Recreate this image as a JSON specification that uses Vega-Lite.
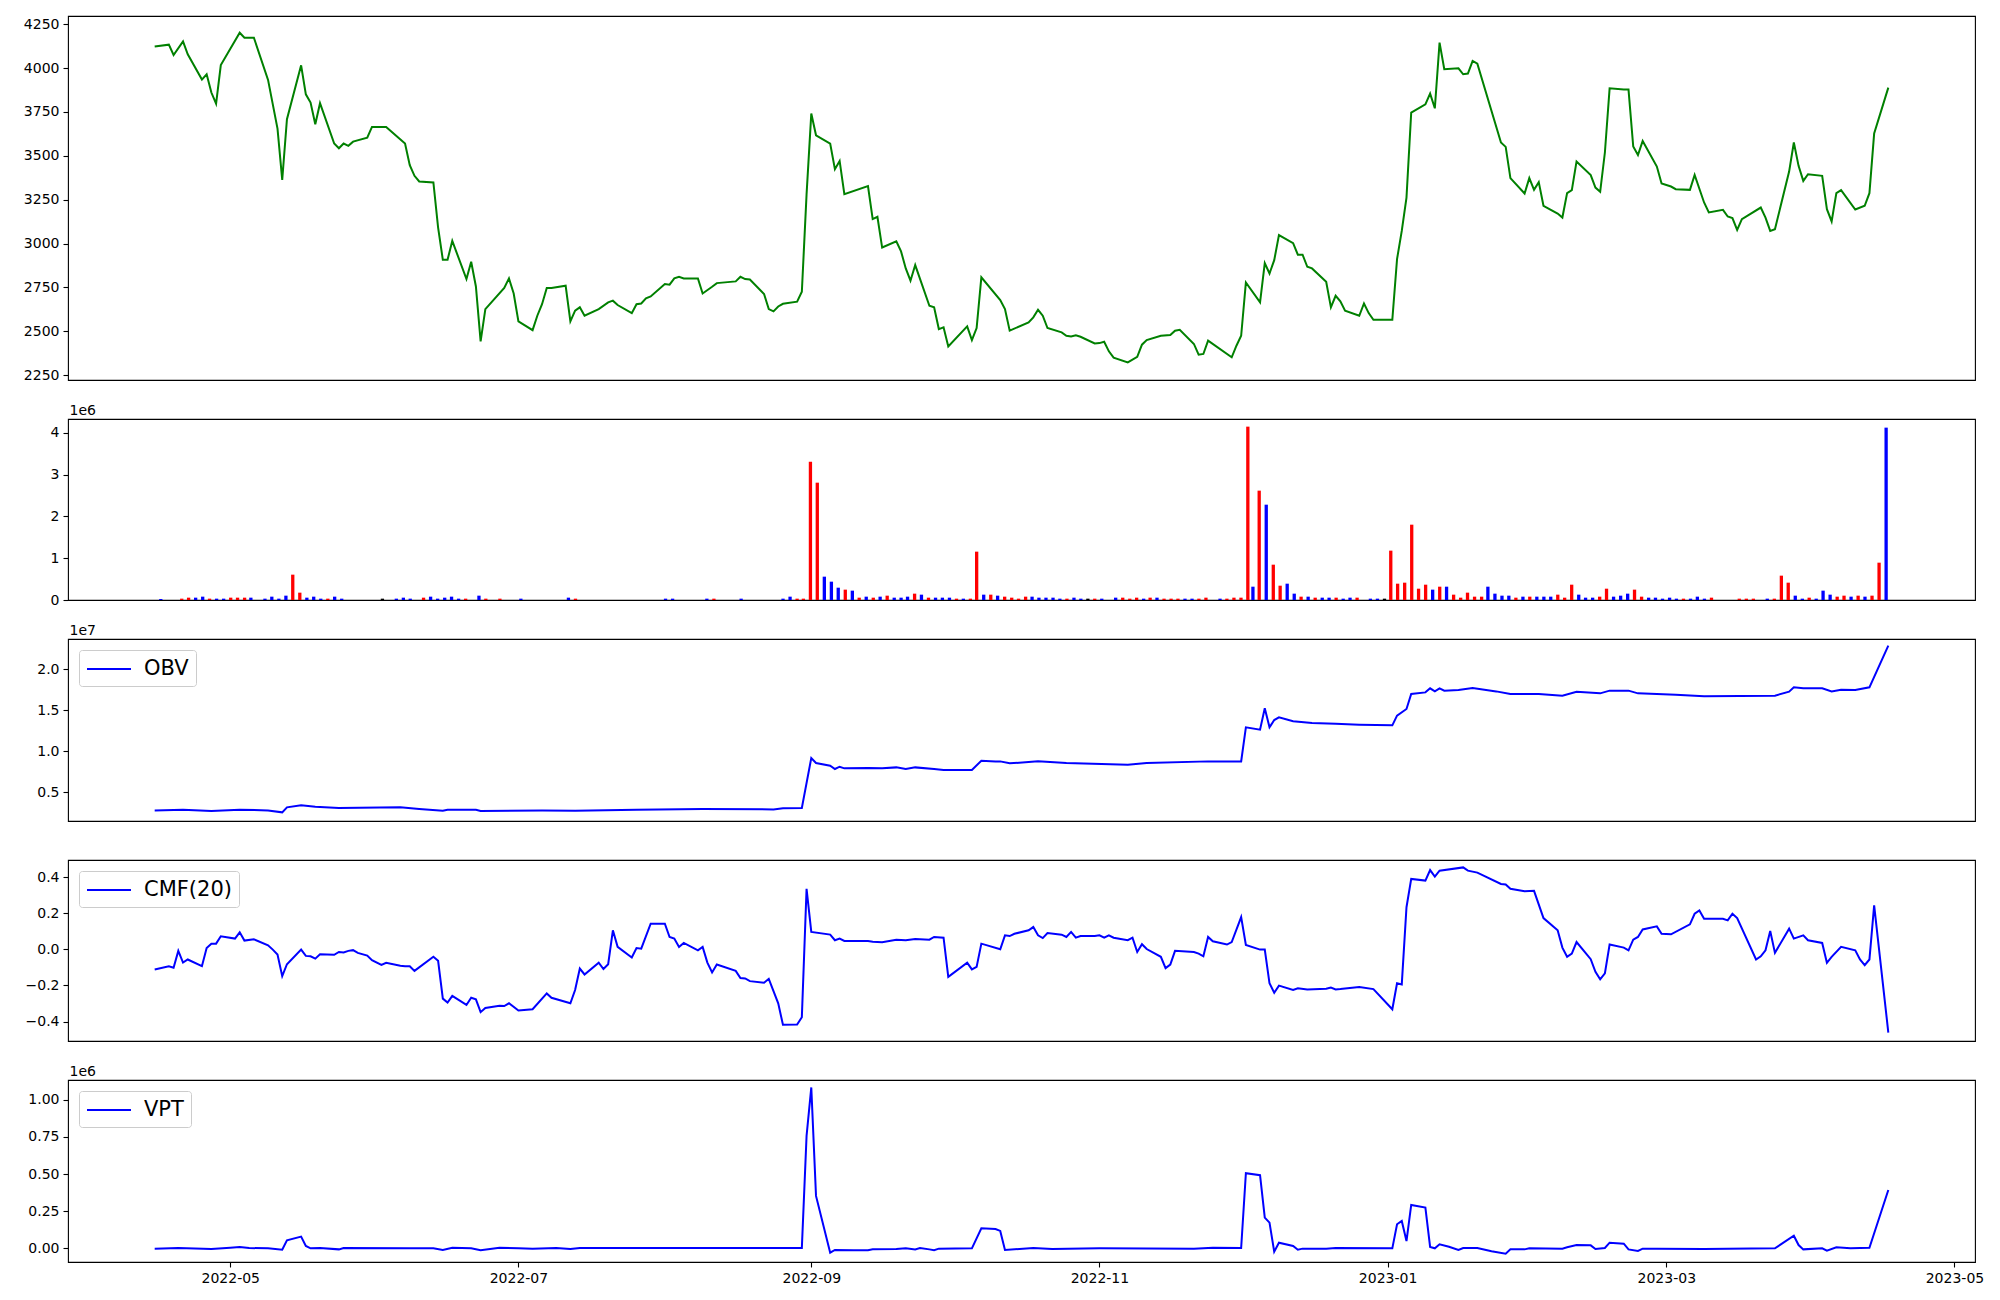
{
"$schema": "https://vega.github.io/schema/vega-lite/v6.json",
"background": "white",
"padding": {"left": 22, "top": 15, "right": 10, "bottom": 5},
"bounds": "flush",
"spacing": 39,
"resolve": {"scale": {"color": "independent"}},
"config": {
  "view": {"stroke": "black", "strokeWidth": 1.1},
  "axis": {"domain": false, "grid": false, "tickColor": "black", "tickSize": 5, "tickWidth": 1.1, "labelColor": "black", "labelFont": "DejaVu Sans", "labelFontSize": 14, "labelPadding": 4, "labelFlush": false, "labelOverlap": false, "labelBound": false, "titleFont": "DejaVu Sans", "titleFontSize": 14, "titleFontWeight": "normal", "titleColor": "black"},
  "legend": {"title": null, "orient": "top-left", "offset": 11, "symbolType": "M-1,0H3", "symbolSize": 484, "symbolStrokeWidth": 2, "labelOffset": 34, "labelFontSize": 21, "labelFont": "DejaVu Sans", "labelColor": "black", "padding": 7, "strokeColor": "#cccccc", "fillColor": "white", "cornerRadius": 3}
},
"datasets": {
"price": [
{"date":"2022-04-15T00:00","v":4123},{"date":"2022-04-18T00:00","v":4134},{"date":"2022-04-19T00:00","v":4075},{"date":"2022-04-21T00:00","v":4153},{"date":"2022-04-22T00:00","v":4079},{"date":"2022-04-25T00:00","v":3935},{"date":"2022-04-26T00:00","v":3965},{"date":"2022-04-27T00:00","v":3861},{"date":"2022-04-28T00:00","v":3798},{"date":"2022-04-29T00:00","v":4018},{"date":"2022-05-03T00:00","v":4202},{"date":"2022-05-04T00:00","v":4174},{"date":"2022-05-06T00:00","v":4174},{"date":"2022-05-09T00:00","v":3933},{"date":"2022-05-11T00:00","v":3655},{"date":"2022-05-12T00:00","v":3363},{"date":"2022-05-13T00:00","v":3709},{"date":"2022-05-16T00:00","v":4016},{"date":"2022-05-17T00:00","v":3851},{"date":"2022-05-18T00:00","v":3804},{"date":"2022-05-19T00:00","v":3680},{"date":"2022-05-20T00:00","v":3800},{"date":"2022-05-23T00:00","v":3570},{"date":"2022-05-24T00:00","v":3543},{"date":"2022-05-25T00:00","v":3570},{"date":"2022-05-26T00:00","v":3557},{"date":"2022-05-27T00:00","v":3581},{"date":"2022-05-30T00:00","v":3604},{"date":"2022-05-31T00:00","v":3665},{"date":"2022-06-03T00:00","v":3665},{"date":"2022-06-07T00:00","v":3570},{"date":"2022-06-08T00:00","v":3447},{"date":"2022-06-09T00:00","v":3386},{"date":"2022-06-10T00:00","v":3354},{"date":"2022-06-13T00:00","v":3348},{"date":"2022-06-14T00:00","v":3091},{"date":"2022-06-15T00:00","v":2907},{"date":"2022-06-16T00:00","v":2907},{"date":"2022-06-17T00:00","v":3015},{"date":"2022-06-20T00:00","v":2797},{"date":"2022-06-21T00:00","v":2896},{"date":"2022-06-22T00:00","v":2755},{"date":"2022-06-23T00:00","v":2442},{"date":"2022-06-24T00:00","v":2626},{"date":"2022-06-28T00:00","v":2746},{"date":"2022-06-29T00:00","v":2801},{"date":"2022-06-30T00:00","v":2715},{"date":"2022-07-01T00:00","v":2556},{"date":"2022-07-04T00:00","v":2506},{"date":"2022-07-05T00:00","v":2588},{"date":"2022-07-06T00:00","v":2654},{"date":"2022-07-07T00:00","v":2746},{"date":"2022-07-08T00:00","v":2746},{"date":"2022-07-11T00:00","v":2759},{"date":"2022-07-12T00:00","v":2556},{"date":"2022-07-13T00:00","v":2617},{"date":"2022-07-14T00:00","v":2636},{"date":"2022-07-15T00:00","v":2588},{"date":"2022-07-18T00:00","v":2626},{"date":"2022-07-20T00:00","v":2664},{"date":"2022-07-21T00:00","v":2674},{"date":"2022-07-22T00:00","v":2649},{"date":"2022-07-25T00:00","v":2603},{"date":"2022-07-26T00:00","v":2654},{"date":"2022-07-27T00:00","v":2658},{"date":"2022-07-28T00:00","v":2687},{"date":"2022-07-29T00:00","v":2698},{"date":"2022-08-01T00:00","v":2769},{"date":"2022-08-02T00:00","v":2765},{"date":"2022-08-03T00:00","v":2801},{"date":"2022-08-04T00:00","v":2810},{"date":"2022-08-05T00:00","v":2801},{"date":"2022-08-08T00:00","v":2801},{"date":"2022-08-09T00:00","v":2715},{"date":"2022-08-11T00:00","v":2753},{"date":"2022-08-12T00:00","v":2774},{"date":"2022-08-16T00:00","v":2784},{"date":"2022-08-17T00:00","v":2810},{"date":"2022-08-18T00:00","v":2797},{"date":"2022-08-19T00:00","v":2795},{"date":"2022-08-22T00:00","v":2712},{"date":"2022-08-23T00:00","v":2626},{"date":"2022-08-24T00:00","v":2613},{"date":"2022-08-25T00:00","v":2641},{"date":"2022-08-26T00:00","v":2656},{"date":"2022-08-29T00:00","v":2668},{"date":"2022-08-30T00:00","v":2725},{"date":"2022-08-31T00:00","v":3280},{"date":"2022-09-01T00:00","v":3741},{"date":"2022-09-02T00:00","v":3617},{"date":"2022-09-05T00:00","v":3570},{"date":"2022-09-06T00:00","v":3424},{"date":"2022-09-07T00:00","v":3471},{"date":"2022-09-08T00:00","v":3281},{"date":"2022-09-13T00:00","v":3327},{"date":"2022-09-14T00:00","v":3139},{"date":"2022-09-15T00:00","v":3152},{"date":"2022-09-16T00:00","v":2977},{"date":"2022-09-19T00:00","v":3012},{"date":"2022-09-20T00:00","v":2955},{"date":"2022-09-21T00:00","v":2858},{"date":"2022-09-22T00:00","v":2788},{"date":"2022-09-23T00:00","v":2877},{"date":"2022-09-26T00:00","v":2645},{"date":"2022-09-27T00:00","v":2636},{"date":"2022-09-28T00:00","v":2512},{"date":"2022-09-29T00:00","v":2522},{"date":"2022-09-30T00:00","v":2413},{"date":"2022-10-04T00:00","v":2527},{"date":"2022-10-05T00:00","v":2449},{"date":"2022-10-06T00:00","v":2518},{"date":"2022-10-07T00:00","v":2807},{"date":"2022-10-11T00:00","v":2677},{"date":"2022-10-12T00:00","v":2626},{"date":"2022-10-13T00:00","v":2503},{"date":"2022-10-17T00:00","v":2550},{"date":"2022-10-18T00:00","v":2579},{"date":"2022-10-19T00:00","v":2622},{"date":"2022-10-20T00:00","v":2588},{"date":"2022-10-21T00:00","v":2518},{"date":"2022-10-24T00:00","v":2493},{"date":"2022-10-25T00:00","v":2474},{"date":"2022-10-26T00:00","v":2470},{"date":"2022-10-27T00:00","v":2476},{"date":"2022-10-28T00:00","v":2468},{"date":"2022-10-31T00:00","v":2430},{"date":"2022-11-01T00:00","v":2432},{"date":"2022-11-02T00:00","v":2440},{"date":"2022-11-03T00:00","v":2385},{"date":"2022-11-04T00:00","v":2349},{"date":"2022-11-07T00:00","v":2322},{"date":"2022-11-09T00:00","v":2354},{"date":"2022-11-10T00:00","v":2423},{"date":"2022-11-11T00:00","v":2449},{"date":"2022-11-14T00:00","v":2474},{"date":"2022-11-16T00:00","v":2478},{"date":"2022-11-17T00:00","v":2503},{"date":"2022-11-18T00:00","v":2508},{"date":"2022-11-21T00:00","v":2427},{"date":"2022-11-22T00:00","v":2366},{"date":"2022-11-23T00:00","v":2370},{"date":"2022-11-24T00:00","v":2446},{"date":"2022-11-29T00:00","v":2351},{"date":"2022-11-30T00:00","v":2417},{"date":"2022-12-01T00:00","v":2474},{"date":"2022-12-02T00:00","v":2778},{"date":"2022-12-05T00:00","v":2664},{"date":"2022-12-06T00:00","v":2888},{"date":"2022-12-07T00:00","v":2829},{"date":"2022-12-08T00:00","v":2905},{"date":"2022-12-09T00:00","v":3048},{"date":"2022-12-12T00:00","v":3002},{"date":"2022-12-13T00:00","v":2936},{"date":"2022-12-14T00:00","v":2936},{"date":"2022-12-15T00:00","v":2867},{"date":"2022-12-16T00:00","v":2858},{"date":"2022-12-19T00:00","v":2782},{"date":"2022-12-20T00:00","v":2636},{"date":"2022-12-21T00:00","v":2702},{"date":"2022-12-22T00:00","v":2670},{"date":"2022-12-23T00:00","v":2617},{"date":"2022-12-26T00:00","v":2588},{"date":"2022-12-27T00:00","v":2658},{"date":"2022-12-28T00:00","v":2603},{"date":"2022-12-29T00:00","v":2565},{"date":"2023-01-02T00:00","v":2565},{"date":"2023-01-03T00:00","v":2911},{"date":"2023-01-04T00:00","v":3072},{"date":"2023-01-05T00:00","v":3262},{"date":"2023-01-06T00:00","v":3747},{"date":"2023-01-09T00:00","v":3794},{"date":"2023-01-10T00:00","v":3855},{"date":"2023-01-11T00:00","v":3771},{"date":"2023-01-12T00:00","v":4146},{"date":"2023-01-13T00:00","v":3994},{"date":"2023-01-16T00:00","v":3999},{"date":"2023-01-17T00:00","v":3965},{"date":"2023-01-18T00:00","v":3969},{"date":"2023-01-19T00:00","v":4041},{"date":"2023-01-20T00:00","v":4026},{"date":"2023-01-25T00:00","v":3576},{"date":"2023-01-26T00:00","v":3551},{"date":"2023-01-27T00:00","v":3373},{"date":"2023-01-30T00:00","v":3285},{"date":"2023-01-31T00:00","v":3373},{"date":"2023-02-01T00:00","v":3306},{"date":"2023-02-02T00:00","v":3350},{"date":"2023-02-03T00:00","v":3215},{"date":"2023-02-06T00:00","v":3171},{"date":"2023-02-07T00:00","v":3148},{"date":"2023-02-08T00:00","v":3287},{"date":"2023-02-09T00:00","v":3304},{"date":"2023-02-10T00:00","v":3468},{"date":"2023-02-13T00:00","v":3390},{"date":"2023-02-14T00:00","v":3319},{"date":"2023-02-15T00:00","v":3295},{"date":"2023-02-16T00:00","v":3519},{"date":"2023-02-17T00:00","v":3885},{"date":"2023-02-20T00:00","v":3878},{"date":"2023-02-21T00:00","v":3878},{"date":"2023-02-22T00:00","v":3553},{"date":"2023-02-23T00:00","v":3505},{"date":"2023-02-24T00:00","v":3585},{"date":"2023-02-27T00:00","v":3439},{"date":"2023-02-28T00:00","v":3342},{"date":"2023-03-02T00:00","v":3325},{"date":"2023-03-03T00:00","v":3310},{"date":"2023-03-06T00:00","v":3306},{"date":"2023-03-07T00:00","v":3391},{"date":"2023-03-09T00:00","v":3234},{"date":"2023-03-10T00:00","v":3177},{"date":"2023-03-13T00:00","v":3192},{"date":"2023-03-14T00:00","v":3154},{"date":"2023-03-15T00:00","v":3145},{"date":"2023-03-16T00:00","v":3078},{"date":"2023-03-17T00:00","v":3139},{"date":"2023-03-21T00:00","v":3205},{"date":"2023-03-22T00:00","v":3148},{"date":"2023-03-23T00:00","v":3072},{"date":"2023-03-24T00:00","v":3082},{"date":"2023-03-27T00:00","v":3410},{"date":"2023-03-28T00:00","v":3576},{"date":"2023-03-29T00:00","v":3443},{"date":"2023-03-30T00:00","v":3357},{"date":"2023-03-31T00:00","v":3395},{"date":"2023-04-03T00:00","v":3386},{"date":"2023-04-04T00:00","v":3196},{"date":"2023-04-05T00:00","v":3126},{"date":"2023-04-06T00:00","v":3287},{"date":"2023-04-07T00:00","v":3304},{"date":"2023-04-10T00:00","v":3194},{"date":"2023-04-12T00:00","v":3215},{"date":"2023-04-13T00:00","v":3287},{"date":"2023-04-14T00:00","v":3627},{"date":"2023-04-17T00:00","v":3889}
],
"volume": [
{"date":"2022-04-15T08:00","v":24000,"dir":"down"},{"date":"2022-04-19T19:00","v":32000,"dir":"up"},{"date":"2022-04-21T06:00","v":56000,"dir":"up"},{"date":"2022-04-22T18:00","v":56000,"dir":"down"},{"date":"2022-04-24T06:00","v":80000,"dir":"down"},{"date":"2022-04-25T17:00","v":32000,"dir":"up"},{"date":"2022-04-27T05:00","v":32000,"dir":"down"},{"date":"2022-04-28T17:00","v":32000,"dir":"down"},{"date":"2022-04-30T05:00","v":56000,"dir":"up"},{"date":"2022-05-01T16:00","v":56000,"dir":"up"},{"date":"2022-05-03T04:00","v":56000,"dir":"up"},{"date":"2022-05-04T12:00","v":56000,"dir":"down"},{"date":"2022-05-07T12:00","v":32000,"dir":"down"},{"date":"2022-05-08T23:00","v":80000,"dir":"down"},{"date":"2022-05-10T11:00","v":32000,"dir":"down"},{"date":"2022-05-11T23:00","v":104000,"dir":"down"},{"date":"2022-05-13T10:00","v":607000,"dir":"up"},{"date":"2022-05-14T22:00","v":176000,"dir":"up"},{"date":"2022-05-16T10:00","v":56000,"dir":"down"},{"date":"2022-05-17T21:00","v":80000,"dir":"down"},{"date":"2022-05-19T09:00","v":32000,"dir":"down"},{"date":"2022-05-20T21:00","v":32000,"dir":"up"},{"date":"2022-05-22T08:00","v":80000,"dir":"down"},{"date":"2022-05-23T20:00","v":32000,"dir":"down"},{"date":"2022-06-01T12:00","v":32000,"dir":"flat"},{"date":"2022-06-04T11:00","v":32000,"dir":"down"},{"date":"2022-06-05T23:00","v":56000,"dir":"down"},{"date":"2022-06-07T10:00","v":32000,"dir":"down"},{"date":"2022-06-10T06:00","v":56000,"dir":"up"},{"date":"2022-06-11T18:00","v":80000,"dir":"down"},{"date":"2022-06-13T06:00","v":32000,"dir":"down"},{"date":"2022-06-14T18:00","v":56000,"dir":"down"},{"date":"2022-06-16T05:00","v":80000,"dir":"down"},{"date":"2022-06-17T17:00","v":32000,"dir":"down"},{"date":"2022-06-19T05:00","v":32000,"dir":"up"},{"date":"2022-06-22T01:00","v":104000,"dir":"down"},{"date":"2022-06-23T12:00","v":32000,"dir":"up"},{"date":"2022-06-26T12:00","v":32000,"dir":"up"},{"date":"2022-06-30T23:00","v":32000,"dir":"down"},{"date":"2022-07-11T02:00","v":56000,"dir":"down"},{"date":"2022-07-12T14:00","v":32000,"dir":"up"},{"date":"2022-07-31T18:00","v":32000,"dir":"down"},{"date":"2022-08-02T06:00","v":32000,"dir":"down"},{"date":"2022-08-09T13:00","v":32000,"dir":"down"},{"date":"2022-08-11T01:00","v":32000,"dir":"up"},{"date":"2022-08-16T20:00","v":32000,"dir":"down"},{"date":"2022-08-25T18:00","v":32000,"dir":"down"},{"date":"2022-08-27T06:00","v":80000,"dir":"down"},{"date":"2022-08-28T18:00","v":32000,"dir":"up"},{"date":"2022-08-30T02:00","v":32000,"dir":"up"},{"date":"2022-08-31T14:00","v":3313000,"dir":"up"},{"date":"2022-09-02T01:00","v":2810000,"dir":"up"},{"date":"2022-09-03T13:00","v":559000,"dir":"down"},{"date":"2022-09-05T01:00","v":439000,"dir":"down"},{"date":"2022-09-06T12:00","v":295000,"dir":"down"},{"date":"2022-09-08T00:00","v":248000,"dir":"up"},{"date":"2022-09-09T12:00","v":224000,"dir":"down"},{"date":"2022-09-10T23:00","v":56000,"dir":"up"},{"date":"2022-09-12T11:00","v":80000,"dir":"down"},{"date":"2022-09-13T23:00","v":56000,"dir":"up"},{"date":"2022-09-15T10:00","v":80000,"dir":"down"},{"date":"2022-09-16T22:00","v":104000,"dir":"up"},{"date":"2022-09-18T10:00","v":56000,"dir":"down"},{"date":"2022-09-19T21:00","v":56000,"dir":"down"},{"date":"2022-09-21T06:00","v":80000,"dir":"down"},{"date":"2022-09-22T18:00","v":152000,"dir":"up"},{"date":"2022-09-24T05:00","v":128000,"dir":"down"},{"date":"2022-09-25T17:00","v":56000,"dir":"up"},{"date":"2022-09-27T05:00","v":56000,"dir":"down"},{"date":"2022-09-28T16:00","v":56000,"dir":"down"},{"date":"2022-09-30T04:00","v":56000,"dir":"down"},{"date":"2022-10-01T16:00","v":32000,"dir":"up"},{"date":"2022-10-03T03:00","v":32000,"dir":"down"},{"date":"2022-10-04T15:00","v":32000,"dir":"up"},{"date":"2022-10-05T23:00","v":1158000,"dir":"up"},{"date":"2022-10-07T11:00","v":128000,"dir":"down"},{"date":"2022-10-08T23:00","v":128000,"dir":"up"},{"date":"2022-10-10T10:00","v":104000,"dir":"down"},
{"date":"2022-10-11T22:00","v":80000,"dir":"up"},{"date":"2022-10-13T10:00","v":56000,"dir":"up"},{"date":"2022-10-14T21:00","v":32000,"dir":"up"},{"date":"2022-10-16T09:00","v":80000,"dir":"up"},{"date":"2022-10-17T18:00","v":80000,"dir":"down"},{"date":"2022-10-19T05:00","v":56000,"dir":"down"},{"date":"2022-10-20T17:00","v":56000,"dir":"down"},{"date":"2022-10-22T05:00","v":56000,"dir":"down"},{"date":"2022-10-23T16:00","v":32000,"dir":"down"},{"date":"2022-10-25T04:00","v":32000,"dir":"up"},{"date":"2022-10-26T16:00","v":56000,"dir":"down"},{"date":"2022-10-28T03:00","v":32000,"dir":"down"},{"date":"2022-10-29T15:00","v":32000,"dir":"flat"},{"date":"2022-10-31T02:00","v":32000,"dir":"up"},{"date":"2022-11-01T14:00","v":32000,"dir":"down"},{"date":"2022-11-04T13:00","v":56000,"dir":"down"},{"date":"2022-11-06T01:00","v":56000,"dir":"up"},{"date":"2022-11-07T13:00","v":32000,"dir":"up"},{"date":"2022-11-09T00:00","v":56000,"dir":"up"},{"date":"2022-11-10T12:00","v":32000,"dir":"down"},{"date":"2022-11-11T21:00","v":56000,"dir":"up"},{"date":"2022-11-13T08:00","v":56000,"dir":"down"},{"date":"2022-11-14T20:00","v":32000,"dir":"up"},{"date":"2022-11-16T08:00","v":32000,"dir":"up"},{"date":"2022-11-17T19:00","v":32000,"dir":"up"},{"date":"2022-11-19T07:00","v":32000,"dir":"down"},{"date":"2022-11-20T19:00","v":32000,"dir":"down"},{"date":"2022-11-22T06:00","v":32000,"dir":"up"},{"date":"2022-11-23T18:00","v":56000,"dir":"up"},{"date":"2022-11-26T18:00","v":32000,"dir":"down"},{"date":"2022-11-28T05:00","v":32000,"dir":"up"},{"date":"2022-11-29T17:00","v":56000,"dir":"up"},{"date":"2022-12-01T05:00","v":56000,"dir":"up"},{"date":"2022-12-02T16:00","v":4152000,"dir":"up"},{"date":"2022-12-03T18:00","v":319000,"dir":"down"},{"date":"2022-12-05T02:00","v":2619000,"dir":"up"},{"date":"2022-12-06T14:00","v":2283000,"dir":"down"},{"date":"2022-12-08T02:00","v":846000,"dir":"up"},{"date":"2022-12-09T13:00","v":343000,"dir":"up"},{"date":"2022-12-11T01:00","v":391000,"dir":"down"},{"date":"2022-12-12T13:00","v":152000,"dir":"down"},{"date":"2022-12-14T00:00","v":80000,"dir":"up"},{"date":"2022-12-15T12:00","v":80000,"dir":"down"},{"date":"2022-12-17T00:00","v":56000,"dir":"up"},{"date":"2022-12-18T12:00","v":56000,"dir":"down"},{"date":"2022-12-19T23:00","v":56000,"dir":"down"},{"date":"2022-12-21T11:00","v":56000,"dir":"up"},{"date":"2022-12-22T23:00","v":32000,"dir":"down"},{"date":"2022-12-24T10:00","v":56000,"dir":"down"},{"date":"2022-12-25T22:00","v":56000,"dir":"up"},{"date":"2022-12-28T18:00","v":32000,"dir":"down"},{"date":"2022-12-30T06:00","v":32000,"dir":"down"},{"date":"2022-12-31T18:00","v":32000,"dir":"flat"},{"date":"2023-01-02T02:00","v":1182000,"dir":"up"},{"date":"2023-01-03T13:00","v":391000,"dir":"up"},{"date":"2023-01-05T01:00","v":415000,"dir":"up"},{"date":"2023-01-06T13:00","v":1804000,"dir":"up"},{"date":"2023-01-08T00:00","v":271000,"dir":"up"},{"date":"2023-01-09T12:00","v":367000,"dir":"up"},{"date":"2023-01-11T00:00","v":248000,"dir":"down"},{"date":"2023-01-12T12:00","v":319000,"dir":"up"},{"date":"2023-01-13T23:00","v":319000,"dir":"down"},{"date":"2023-01-15T11:00","v":128000,"dir":"up"},{"date":"2023-01-16T23:00","v":56000,"dir":"up"},{"date":"2023-01-18T10:00","v":176000,"dir":"up"},{"date":"2023-01-19T22:00","v":80000,"dir":"up"},{"date":"2023-01-21T10:00","v":80000,"dir":"up"},{"date":"2023-01-22T18:00","v":319000,"dir":"down"},{"date":"2023-01-24T06:00","v":152000,"dir":"down"},{"date":"2023-01-25T18:00","v":104000,"dir":"down"},{"date":"2023-01-27T05:00","v":104000,"dir":"down"},{"date":"2023-01-28T17:00","v":56000,"dir":"up"},{"date":"2023-01-30T05:00","v":80000,"dir":"down"},{"date":"2023-01-31T16:00","v":80000,"dir":"up"},{"date":"2023-02-02T04:00","v":80000,"dir":"down"},{"date":"2023-02-03T16:00","v":80000,"dir":"down"},{"date":"2023-02-05T03:00","v":80000,"dir":"down"},{"date":"2023-02-06T15:00","v":128000,"dir":"up"},{"date":"2023-02-08T02:00","v":56000,"dir":"up"},{"date":"2023-02-09T14:00","v":367000,"dir":"up"},{"date":"2023-02-11T02:00","v":128000,"dir":"down"},{"date":"2023-02-12T13:00","v":56000,"dir":"down"},{"date":"2023-02-14T01:00","v":56000,"dir":"down"},{"date":"2023-02-15T13:00","v":80000,"dir":"up"},{"date":"2023-02-17T00:00","v":271000,"dir":"up"},{"date":"2023-02-18T12:00","v":80000,"dir":"down"},{"date":"2023-02-20T00:00","v":104000,"dir":"down"},{"date":"2023-02-21T12:00","v":152000,"dir":"down"},{"date":"2023-02-22T23:00","v":248000,"dir":"up"},{"date":"2023-02-24T11:00","v":80000,"dir":"up"},{"date":"2023-02-25T23:00","v":56000,"dir":"down"},{"date":"2023-02-27T10:00","v":56000,"dir":"down"},{"date":"2023-02-28T22:00","v":32000,"dir":"down"},{"date":"2023-03-02T10:00","v":56000,"dir":"down"},{"date":"2023-03-03T21:00","v":32000,"dir":"down"},{"date":"2023-03-05T09:00","v":32000,"dir":"up"},{"date":"2023-03-06T21:00","v":32000,"dir":"down"},{"date":"2023-03-08T08:00","v":80000,"dir":"down"},{"date":"2023-03-09T20:00","v":32000,"dir":"down"},{"date":"2023-03-11T08:00","v":56000,"dir":"up"},{"date":"2023-03-17T06:00","v":32000,"dir":"up"},{"date":"2023-03-18T18:00","v":32000,"dir":"up"},{"date":"2023-03-20T06:00","v":32000,"dir":"up"},{"date":"2023-03-23T05:00","v":32000,"dir":"down"},{"date":"2023-03-24T17:00","v":32000,"dir":"up"},{"date":"2023-03-26T05:00","v":583000,"dir":"up"},{"date":"2023-03-27T16:00","v":415000,"dir":"up"},{"date":"2023-03-29T04:00","v":104000,"dir":"down"},{"date":"2023-03-30T16:00","v":32000,"dir":"down"},{"date":"2023-04-01T03:00","v":56000,"dir":"up"},{"date":"2023-04-02T15:00","v":32000,"dir":"down"},{"date":"2023-04-04T02:00","v":224000,"dir":"down"},{"date":"2023-04-05T14:00","v":128000,"dir":"down"},{"date":"2023-04-07T02:00","v":80000,"dir":"up"},{"date":"2023-04-08T13:00","v":104000,"dir":"up"},{"date":"2023-04-10T01:00","v":80000,"dir":"down"},{"date":"2023-04-11T13:00","v":104000,"dir":"up"},{"date":"2023-04-13T00:00","v":80000,"dir":"down"},{"date":"2023-04-14T12:00","v":104000,"dir":"up"},{"date":"2023-04-16T00:00","v":894000,"dir":"up"},{"date":"2023-04-17T12:00","v":4128000,"dir":"down"}
],
"obv": [
{"date":"2022-04-15T00:00","v":2810000},{"date":"2022-04-21T00:00","v":2890000},{"date":"2022-04-27T00:00","v":2730000},{"date":"2022-05-03T00:00","v":2890000},{"date":"2022-05-09T00:00","v":2810000},{"date":"2022-05-12T00:00","v":2570000},{"date":"2022-05-13T00:00","v":3180000},{"date":"2022-05-16T00:00","v":3420000},{"date":"2022-05-19T00:00","v":3260000},{"date":"2022-05-24T00:00","v":3100000},{"date":"2022-06-06T00:00","v":3180000},{"date":"2022-06-10T00:00","v":2980000},{"date":"2022-06-15T00:00","v":2770000},{"date":"2022-06-16T00:00","v":2890000},{"date":"2022-06-22T00:00","v":2890000},{"date":"2022-06-23T00:00","v":2730000},{"date":"2022-07-06T00:00","v":2810000},{"date":"2022-07-13T00:00","v":2770000},{"date":"2022-07-26T00:00","v":2890000},{"date":"2022-08-09T00:00","v":2980000},{"date":"2022-08-24T00:00","v":2930000},{"date":"2022-08-26T00:00","v":3060000},{"date":"2022-08-30T00:00","v":3100000},{"date":"2022-09-01T00:00","v":9180000},{"date":"2022-09-02T00:00","v":8570000},{"date":"2022-09-05T00:00","v":8240000},{"date":"2022-09-06T00:00","v":7840000},{"date":"2022-09-07T00:00","v":8120000},{"date":"2022-09-08T00:00","v":7920000},{"date":"2022-09-13T00:00","v":7960000},{"date":"2022-09-16T00:00","v":7920000},{"date":"2022-09-19T00:00","v":8040000},{"date":"2022-09-21T00:00","v":7840000},{"date":"2022-09-23T00:00","v":8040000},{"date":"2022-09-27T00:00","v":7840000},{"date":"2022-09-29T00:00","v":7720000},{"date":"2022-10-05T00:00","v":7720000},{"date":"2022-10-07T00:00","v":8850000},{"date":"2022-10-10T00:00","v":8770000},{"date":"2022-10-11T00:00","v":8770000},{"date":"2022-10-13T00:00","v":8530000},{"date":"2022-10-19T00:00","v":8770000},{"date":"2022-10-25T00:00","v":8570000},{"date":"2022-11-07T00:00","v":8370000},{"date":"2022-11-11T00:00","v":8570000},{"date":"2022-11-24T00:00","v":8770000},{"date":"2022-12-01T00:00","v":8770000},{"date":"2022-12-02T00:00","v":12910000},{"date":"2022-12-05T00:00","v":12620000},{"date":"2022-12-06T00:00","v":15220000},{"date":"2022-12-07T00:00","v":12910000},{"date":"2022-12-08T00:00","v":13800000},{"date":"2022-12-09T00:00","v":14120000},{"date":"2022-12-12T00:00","v":13640000},{"date":"2022-12-16T00:00","v":13430000},{"date":"2022-12-21T00:00","v":13350000},{"date":"2022-12-26T00:00","v":13230000},{"date":"2023-01-02T00:00","v":13150000},{"date":"2023-01-03T00:00","v":14330000},{"date":"2023-01-05T00:00","v":15140000},{"date":"2023-01-06T00:00","v":16960000},{"date":"2023-01-09T00:00","v":17160000},{"date":"2023-01-10T00:00","v":17650000},{"date":"2023-01-11T00:00","v":17280000},{"date":"2023-01-12T00:00","v":17650000},{"date":"2023-01-13T00:00","v":17370000},{"date":"2023-01-16T00:00","v":17450000},{"date":"2023-01-19T00:00","v":17690000},{"date":"2023-01-24T00:00","v":17280000},{"date":"2023-01-27T00:00","v":16960000},{"date":"2023-02-02T00:00","v":16960000},{"date":"2023-02-07T00:00","v":16760000},{"date":"2023-02-10T00:00","v":17240000},{"date":"2023-02-15T00:00","v":17040000},{"date":"2023-02-17T00:00","v":17370000},{"date":"2023-02-21T00:00","v":17370000},{"date":"2023-02-23T00:00","v":17040000},{"date":"2023-03-03T00:00","v":16880000},{"date":"2023-03-09T00:00","v":16680000},{"date":"2023-03-24T00:00","v":16760000},{"date":"2023-03-27T00:00","v":17240000},{"date":"2023-03-28T00:00","v":17770000},{"date":"2023-03-30T00:00","v":17650000},{"date":"2023-04-03T00:00","v":17650000},{"date":"2023-04-05T00:00","v":17280000},{"date":"2023-04-07T00:00","v":17490000},{"date":"2023-04-10T00:00","v":17450000},{"date":"2023-04-13T00:00","v":17770000},{"date":"2023-04-17T00:00","v":22840000}
],
"cmf": [
{"date":"2022-04-15T00:00","v":-0.111},{"date":"2022-04-18T00:00","v":-0.093},{"date":"2022-04-19T00:00","v":-0.102},{"date":"2022-04-20T00:00","v":-0.008},{"date":"2022-04-21T00:00","v":-0.073},{"date":"2022-04-22T00:00","v":-0.056},{"date":"2022-04-25T00:00","v":-0.093},{"date":"2022-04-26T00:00","v":0.008},{"date":"2022-04-27T00:00","v":0.032},{"date":"2022-04-28T00:00","v":0.032},{"date":"2022-04-29T00:00","v":0.073},{"date":"2022-05-02T00:00","v":0.06},{"date":"2022-05-03T00:00","v":0.095},{"date":"2022-05-04T00:00","v":0.049},{"date":"2022-05-06T00:00","v":0.056},{"date":"2022-05-09T00:00","v":0.023},{"date":"2022-05-10T00:00","v":-0.001},{"date":"2022-05-11T00:00","v":-0.028},{"date":"2022-05-12T00:00","v":-0.148},{"date":"2022-05-13T00:00","v":-0.082},{"date":"2022-05-16T00:00","v":-0.001},{"date":"2022-05-17T00:00","v":-0.036},{"date":"2022-05-18T00:00","v":-0.038},{"date":"2022-05-19T00:00","v":-0.051},{"date":"2022-05-20T00:00","v":-0.027},{"date":"2022-05-23T00:00","v":-0.03},{"date":"2022-05-24T00:00","v":-0.014},{"date":"2022-05-25T00:00","v":-0.017},{"date":"2022-05-26T00:00","v":-0.008},{"date":"2022-05-27T00:00","v":-0.004},{"date":"2022-05-28T00:00","v":-0.019},{"date":"2022-05-30T00:00","v":-0.034},{"date":"2022-05-31T00:00","v":-0.06},{"date":"2022-06-02T00:00","v":-0.086},{"date":"2022-06-03T00:00","v":-0.074},{"date":"2022-06-06T00:00","v":-0.091},{"date":"2022-06-07T00:00","v":-0.093},{"date":"2022-06-08T00:00","v":-0.093},{"date":"2022-06-09T00:00","v":-0.119},{"date":"2022-06-13T00:00","v":-0.041},{"date":"2022-06-14T00:00","v":-0.063},{"date":"2022-06-15T00:00","v":-0.273},{"date":"2022-06-16T00:00","v":-0.295},{"date":"2022-06-17T00:00","v":-0.258},{"date":"2022-06-20T00:00","v":-0.308},{"date":"2022-06-21T00:00","v":-0.268},{"date":"2022-06-22T00:00","v":-0.277},{"date":"2022-06-23T00:00","v":-0.348},{"date":"2022-06-24T00:00","v":-0.325},{"date":"2022-06-27T00:00","v":-0.312},{"date":"2022-06-28T00:00","v":-0.314},{"date":"2022-06-29T00:00","v":-0.299},{"date":"2022-07-01T00:00","v":-0.339},{"date":"2022-07-04T00:00","v":-0.332},{"date":"2022-07-07T00:00","v":-0.244},{"date":"2022-07-08T00:00","v":-0.268},{"date":"2022-07-12T00:00","v":-0.299},{"date":"2022-07-13T00:00","v":-0.225},{"date":"2022-07-14T00:00","v":-0.106},{"date":"2022-07-15T00:00","v":-0.139},{"date":"2022-07-18T00:00","v":-0.074},{"date":"2022-07-19T00:00","v":-0.109},{"date":"2022-07-20T00:00","v":-0.082},{"date":"2022-07-21T00:00","v":0.106},{"date":"2022-07-22T00:00","v":0.014},{"date":"2022-07-25T00:00","v":-0.045},{"date":"2022-07-26T00:00","v":0.008},{"date":"2022-07-27T00:00","v":0.004},{"date":"2022-07-29T00:00","v":0.143},{"date":"2022-08-01T00:00","v":0.143},{"date":"2022-08-02T00:00","v":0.069},{"date":"2022-08-03T00:00","v":0.06},{"date":"2022-08-04T00:00","v":0.014},{"date":"2022-08-05T00:00","v":0.036},{"date":"2022-08-08T00:00","v":-0.005},{"date":"2022-08-09T00:00","v":0.014},{"date":"2022-08-10T00:00","v":-0.073},{"date":"2022-08-11T00:00","v":-0.128},{"date":"2022-08-12T00:00","v":-0.084},{"date":"2022-08-16T00:00","v":-0.119},{"date":"2022-08-17T00:00","v":-0.159},{"date":"2022-08-18T00:00","v":-0.161},{"date":"2022-08-19T00:00","v":-0.176},{"date":"2022-08-22T00:00","v":-0.185},{"date":"2022-08-23T00:00","v":-0.163},{"date":"2022-08-25T00:00","v":-0.299},{"date":"2022-08-26T00:00","v":-0.418},{"date":"2022-08-29T00:00","v":-0.417},{"date":"2022-08-30T00:00","v":-0.376},{"date":"2022-08-31T00:00","v":0.336},{"date":"2022-09-01T00:00","v":0.097},{"date":"2022-09-05T00:00","v":0.082},{"date":"2022-09-06T00:00","v":0.051},{"date":"2022-09-07T00:00","v":0.06},{"date":"2022-09-08T00:00","v":0.047},{"date":"2022-09-13T00:00","v":0.047},{"date":"2022-09-14T00:00","v":0.043},{"date":"2022-09-16T00:00","v":0.04},{"date":"2022-09-19T00:00","v":0.054},{"date":"2022-09-21T00:00","v":0.051},{"date":"2022-09-23T00:00","v":0.058},{"date":"2022-09-26T00:00","v":0.054},{"date":"2022-09-27T00:00","v":0.069},{"date":"2022-09-29T00:00","v":0.065},{"date":"2022-09-30T00:00","v":-0.152},{"date":"2022-10-04T00:00","v":-0.073},{"date":"2022-10-05T00:00","v":-0.111},{"date":"2022-10-06T00:00","v":-0.097},{"date":"2022-10-07T00:00","v":0.032},{"date":"2022-10-11T00:00","v":0.001},{"date":"2022-10-12T00:00","v":0.078},{"date":"2022-10-13T00:00","v":0.074},{"date":"2022-10-14T00:00","v":0.087},{"date":"2022-10-17T00:00","v":0.106},{"date":"2022-10-18T00:00","v":0.124},{"date":"2022-10-19T00:00","v":0.078},{"date":"2022-10-20T00:00","v":0.063},{"date":"2022-10-21T00:00","v":0.091},{"date":"2022-10-24T00:00","v":0.082},{"date":"2022-10-25T00:00","v":0.069},{"date":"2022-10-26T00:00","v":0.097},{"date":"2022-10-27T00:00","v":0.065},{"date":"2022-10-28T00:00","v":0.074},{"date":"2022-10-31T00:00","v":0.074},{"date":"2022-11-01T00:00","v":0.078},{"date":"2022-11-02T00:00","v":0.065},{"date":"2022-11-03T00:00","v":0.078},{"date":"2022-11-04T00:00","v":0.065},{"date":"2022-11-07T00:00","v":0.051},{"date":"2022-11-08T00:00","v":0.065},{"date":"2022-11-09T00:00","v":-0.014},{"date":"2022-11-10T00:00","v":0.029},{"date":"2022-11-11T00:00","v":0.002},{"date":"2022-11-14T00:00","v":-0.041},{"date":"2022-11-15T00:00","v":-0.104},{"date":"2022-11-16T00:00","v":-0.084},{"date":"2022-11-17T00:00","v":-0.008},{"date":"2022-11-21T00:00","v":-0.014},{"date":"2022-11-22T00:00","v":-0.023},{"date":"2022-11-23T00:00","v":-0.038},{"date":"2022-11-24T00:00","v":0.069},{"date":"2022-11-25T00:00","v":0.045},{"date":"2022-11-28T00:00","v":0.027},{"date":"2022-11-29T00:00","v":0.041},{"date":"2022-12-01T00:00","v":0.179},{"date":"2022-12-02T00:00","v":0.025},{"date":"2022-12-05T00:00","v":-0.001},{"date":"2022-12-06T00:00","v":-0.001},{"date":"2022-12-07T00:00","v":-0.188},{"date":"2022-12-08T00:00","v":-0.24},{"date":"2022-12-09T00:00","v":-0.201},{"date":"2022-12-12T00:00","v":-0.225},{"date":"2022-12-13T00:00","v":-0.216},{"date":"2022-12-15T00:00","v":-0.222},{"date":"2022-12-19T00:00","v":-0.218},{"date":"2022-12-20T00:00","v":-0.212},{"date":"2022-12-21T00:00","v":-0.222},{"date":"2022-12-22T00:00","v":-0.22},{"date":"2022-12-26T00:00","v":-0.209},{"date":"2022-12-29T00:00","v":-0.22},{"date":"2023-01-02T00:00","v":-0.332},{"date":"2023-01-03T00:00","v":-0.188},{"date":"2023-01-04T00:00","v":-0.194},{"date":"2023-01-05T00:00","v":0.234},{"date":"2023-01-06T00:00","v":0.391},{"date":"2023-01-09T00:00","v":0.382},{"date":"2023-01-10T00:00","v":0.44},{"date":"2023-01-11T00:00","v":0.404},{"date":"2023-01-12T00:00","v":0.437},{"date":"2023-01-17T00:00","v":0.455},{"date":"2023-01-18T00:00","v":0.437},{"date":"2023-01-20T00:00","v":0.426},{"date":"2023-01-25T00:00","v":0.363},{"date":"2023-01-26T00:00","v":0.36},{"date":"2023-01-27T00:00","v":0.336},{"date":"2023-01-30T00:00","v":0.323},{"date":"2023-02-01T00:00","v":0.325},{"date":"2023-02-03T00:00","v":0.174},{"date":"2023-02-06T00:00","v":0.106},{"date":"2023-02-07T00:00","v":0.01},{"date":"2023-02-08T00:00","v":-0.041},{"date":"2023-02-09T00:00","v":-0.023},{"date":"2023-02-10T00:00","v":0.041},{"date":"2023-02-13T00:00","v":-0.054},{"date":"2023-02-14T00:00","v":-0.124},{"date":"2023-02-15T00:00","v":-0.166},{"date":"2023-02-16T00:00","v":-0.133},{"date":"2023-02-17T00:00","v":0.027},{"date":"2023-02-20T00:00","v":0.01},{"date":"2023-02-21T00:00","v":-0.005},{"date":"2023-02-22T00:00","v":0.054},{"date":"2023-02-23T00:00","v":0.069},{"date":"2023-02-24T00:00","v":0.111},{"date":"2023-02-27T00:00","v":0.128},{"date":"2023-02-28T00:00","v":0.087},{"date":"2023-03-02T00:00","v":0.084},{"date":"2023-03-06T00:00","v":0.139},{"date":"2023-03-07T00:00","v":0.198},{"date":"2023-03-08T00:00","v":0.216},{"date":"2023-03-09T00:00","v":0.17},{"date":"2023-03-13T00:00","v":0.17},{"date":"2023-03-14T00:00","v":0.161},{"date":"2023-03-15T00:00","v":0.198},{"date":"2023-03-16T00:00","v":0.174},{"date":"2023-03-20T00:00","v":-0.056},{"date":"2023-03-21T00:00","v":-0.038},{"date":"2023-03-22T00:00","v":-0.005},{"date":"2023-03-23T00:00","v":0.102},{"date":"2023-03-24T00:00","v":-0.019},{"date":"2023-03-27T00:00","v":0.115},{"date":"2023-03-28T00:00","v":0.06},{"date":"2023-03-30T00:00","v":0.078},{"date":"2023-03-31T00:00","v":0.051},{"date":"2023-04-03T00:00","v":0.036},{"date":"2023-04-04T00:00","v":-0.074},{"date":"2023-04-05T00:00","v":-0.041},{"date":"2023-04-07T00:00","v":0.014},{"date":"2023-04-10T00:00","v":-0.005},{"date":"2023-04-11T00:00","v":-0.056},{"date":"2023-04-12T00:00","v":-0.087},{"date":"2023-04-13T00:00","v":-0.056},{"date":"2023-04-14T00:00","v":0.244},{"date":"2023-04-17T00:00","v":-0.461}
],
"vpt": [
{"date":"2022-04-15T00:00","v":-2000},{"date":"2022-04-20T00:00","v":2000},{"date":"2022-04-27T00:00","v":-4000},{"date":"2022-05-01T00:00","v":4000},{"date":"2022-05-03T00:00","v":9000},{"date":"2022-05-05T00:00","v":2000},{"date":"2022-05-09T00:00","v":0},{"date":"2022-05-12T00:00","v":-9000},{"date":"2022-05-13T00:00","v":54000},{"date":"2022-05-16T00:00","v":79000},{"date":"2022-05-17T00:00","v":16000},{"date":"2022-05-18T00:00","v":0},{"date":"2022-05-20T00:00","v":2000},{"date":"2022-05-24T00:00","v":-7000},{"date":"2022-05-25T00:00","v":2000},{"date":"2022-06-08T00:00","v":0},{"date":"2022-06-13T00:00","v":0},{"date":"2022-06-15T00:00","v":-11000},{"date":"2022-06-17T00:00","v":4000},{"date":"2022-06-21T00:00","v":0},{"date":"2022-06-23T00:00","v":-13000},{"date":"2022-06-27T00:00","v":4000},{"date":"2022-07-01T00:00","v":0},{"date":"2022-07-04T00:00","v":-2000},{"date":"2022-07-09T00:00","v":2000},{"date":"2022-07-12T00:00","v":-4000},{"date":"2022-07-14T00:00","v":2000},{"date":"2022-08-09T00:00","v":2000},{"date":"2022-08-30T00:00","v":2000},{"date":"2022-08-31T00:00","v":757000},{"date":"2022-09-01T00:00","v":1083000},{"date":"2022-09-02T00:00","v":353000},{"date":"2022-09-05T00:00","v":-29000},{"date":"2022-09-06T00:00","v":-11000},{"date":"2022-09-10T00:00","v":-13000},{"date":"2022-09-13T00:00","v":-13000},{"date":"2022-09-14T00:00","v":-7000},{"date":"2022-09-19T00:00","v":-4000},{"date":"2022-09-21T00:00","v":0},{"date":"2022-09-23T00:00","v":-7000},{"date":"2022-09-24T00:00","v":2000},{"date":"2022-09-26T00:00","v":-7000},{"date":"2022-09-27T00:00","v":-13000},{"date":"2022-09-28T00:00","v":-2000},{"date":"2022-10-05T00:00","v":0},{"date":"2022-10-07T00:00","v":135000},{"date":"2022-10-10T00:00","v":130000},{"date":"2022-10-11T00:00","v":117000},{"date":"2022-10-12T00:00","v":-11000},{"date":"2022-10-18T00:00","v":2000},{"date":"2022-10-22T00:00","v":-4000},{"date":"2022-11-01T00:00","v":0},{"date":"2022-11-21T00:00","v":-2000},{"date":"2022-11-25T00:00","v":4000},{"date":"2022-12-01T00:00","v":2000},{"date":"2022-12-02T00:00","v":506000},{"date":"2022-12-05T00:00","v":492000},{"date":"2022-12-06T00:00","v":207000},{"date":"2022-12-07T00:00","v":173000},{"date":"2022-12-08T00:00","v":-22000},{"date":"2022-12-09T00:00","v":38000},{"date":"2022-12-12T00:00","v":16000},{"date":"2022-12-13T00:00","v":-9000},{"date":"2022-12-14T00:00","v":-2000},{"date":"2022-12-19T00:00","v":-2000},{"date":"2022-12-21T00:00","v":2000},{"date":"2023-01-02T00:00","v":0},{"date":"2023-01-03T00:00","v":162000},{"date":"2023-01-04T00:00","v":184000},{"date":"2023-01-05T00:00","v":49000},{"date":"2023-01-06T00:00","v":292000},{"date":"2023-01-09T00:00","v":274000},{"date":"2023-01-10T00:00","v":9000},{"date":"2023-01-11T00:00","v":0},{"date":"2023-01-12T00:00","v":27000},{"date":"2023-01-14T00:00","v":11000},{"date":"2023-01-16T00:00","v":-11000},{"date":"2023-01-17T00:00","v":2000},{"date":"2023-01-20T00:00","v":2000},{"date":"2023-01-23T00:00","v":-20000},{"date":"2023-01-26T00:00","v":-36000},{"date":"2023-01-27T00:00","v":-7000},{"date":"2023-01-30T00:00","v":-7000},{"date":"2023-01-31T00:00","v":0},{"date":"2023-02-07T00:00","v":-2000},{"date":"2023-02-08T00:00","v":7000},{"date":"2023-02-10T00:00","v":22000},{"date":"2023-02-13T00:00","v":20000},{"date":"2023-02-14T00:00","v":-4000},{"date":"2023-02-16T00:00","v":2000},{"date":"2023-02-17T00:00","v":38000},{"date":"2023-02-20T00:00","v":31000},{"date":"2023-02-21T00:00","v":-7000},{"date":"2023-02-23T00:00","v":-18000},{"date":"2023-02-24T00:00","v":-2000},{"date":"2023-02-27T00:00","v":-2000},{"date":"2023-03-09T00:00","v":-4000},{"date":"2023-03-24T00:00","v":0},{"date":"2023-03-28T00:00","v":85000},{"date":"2023-03-29T00:00","v":22000},{"date":"2023-03-30T00:00","v":-7000},{"date":"2023-04-03T00:00","v":0},{"date":"2023-04-04T00:00","v":-16000},{"date":"2023-04-06T00:00","v":7000},{"date":"2023-04-09T00:00","v":0},{"date":"2023-04-13T00:00","v":4000},{"date":"2023-04-17T00:00","v":393000}
]
},
"vconcat": [
{
  "width": 1907, "height": 364,
  "data": {"name": "price"},
  "mark": {"type": "line", "color": "#008000", "strokeWidth": 2},
  "encoding": {
    "x": {"field": "date", "type": "temporal", "scale": {"nice": false, "domain": [{"year": 2022, "month": 3, "date": 27, "hours": 15, "minutes": 36}, {"year": 2023, "month": 5, "date": 5, "hours": 8, "minutes": 24}]}, "axis": null},
    "y": {"field": "v", "type": "quantitative", "scale": {"domain": [2221.5, 4297.5], "nice": false, "zero": false}, "axis": {"title": null, "values": [2250, 2500, 2750, 3000, 3250, 3500, 3750, 4000, 4250], "format": "d"}}
  }
},
{
  "width": 1907, "height": 181,
  "data": {"name": "volume"},
  "mark": {"type": "bar", "width": 3.3},
  "encoding": {
    "x": {"field": "date", "type": "temporal", "scale": {"nice": false, "domain": [{"year": 2022, "month": 3, "date": 27, "hours": 15, "minutes": 36}, {"year": 2023, "month": 5, "date": 5, "hours": 8, "minutes": 24}]}, "axis": null},
    "y": {"field": "v", "type": "quantitative", "stack": null, "scale": {"domain": [0, 4335000], "nice": false}, "axis": {"values": [0, 1000000, 2000000, 3000000, 4000000], "labelExpr": "format(datum.value / 1000000, 'd')", "title": "1e6", "titleAngle": 0, "titleX": 1, "titleY": -5, "titleAlign": "left", "titleBaseline": "alphabetic"}},
    "color": {"field": "dir", "type": "nominal", "scale": {"domain": ["up", "down", "flat"], "range": ["#ff0000", "#0000ff", "#000000"]}, "legend": null}
  }
},
{
  "width": 1907, "height": 182,
  "data": {"name": "obv"},
  "mark": {"type": "line", "strokeWidth": 2},
  "encoding": {
    "x": {"field": "date", "type": "temporal", "scale": {"nice": false, "domain": [{"year": 2022, "month": 3, "date": 27, "hours": 15, "minutes": 36}, {"year": 2023, "month": 5, "date": 5, "hours": 8, "minutes": 24}]}, "axis": null},
    "y": {"field": "v", "type": "quantitative", "scale": {"domain": [1520000, 23650000], "nice": false, "zero": false}, "axis": {"values": [5000000, 10000000, 15000000, 20000000], "labelExpr": "format(datum.value / 10000000, '.1f')", "title": "1e7", "titleAngle": 0, "titleX": 1, "titleY": -5, "titleAlign": "left", "titleBaseline": "alphabetic"}},
    "color": {"datum": "OBV", "type": "nominal", "scale": {"domain": ["OBV"], "range": ["#0000ff"]}}
  }
},
{
  "width": 1907, "height": 181,
  "data": {"name": "cmf"},
  "mark": {"type": "line", "strokeWidth": 2},
  "encoding": {
    "x": {"field": "date", "type": "temporal", "scale": {"nice": false, "domain": [{"year": 2022, "month": 3, "date": 27, "hours": 15, "minutes": 36}, {"year": 2023, "month": 5, "date": 5, "hours": 8, "minutes": 24}]}, "axis": null},
    "y": {"field": "v", "type": "quantitative", "scale": {"domain": [-0.508, 0.496], "nice": false, "zero": false}, "axis": {"values": [-0.4, -0.2, 0, 0.2, 0.4], "format": ".1f", "title": null}},
    "color": {"datum": "CMF(20)", "type": "nominal", "scale": {"domain": ["CMF(20)"], "range": ["#0000ff"]}}
  }
},
{
  "width": 1907, "height": 182,
  "data": {"name": "vpt"},
  "mark": {"type": "line", "strokeWidth": 2},
  "encoding": {
    "x": {"field": "date", "type": "temporal", "scale": {"nice": false, "domain": [{"year": 2022, "month": 3, "date": 27, "hours": 15, "minutes": 36}, {"year": 2023, "month": 5, "date": 5, "hours": 8, "minutes": 24}]}, "axis": {"title": null, "format": "%Y-%m", "labelAlign": "center", "values": [{"year": 2022, "month": 5, "date": 1}, {"year": 2022, "month": 7, "date": 1}, {"year": 2022, "month": 9, "date": 1}, {"year": 2022, "month": 11, "date": 1}, {"year": 2023, "month": 1, "date": 1}, {"year": 2023, "month": 3, "date": 1}, {"year": 2023, "month": 5, "date": 1}]}},
    "y": {"field": "v", "type": "quantitative", "scale": {"domain": [-92000, 1133000], "nice": false, "zero": false}, "axis": {"values": [0, 250000, 500000, 750000, 1000000], "labelExpr": "format(datum.value / 1000000, '.2f')", "title": "1e6", "titleAngle": 0, "titleX": 1, "titleY": -5, "titleAlign": "left", "titleBaseline": "alphabetic"}},
    "color": {"datum": "VPT", "type": "nominal", "scale": {"domain": ["VPT"], "range": ["#0000ff"]}}
  }
}
]
}
